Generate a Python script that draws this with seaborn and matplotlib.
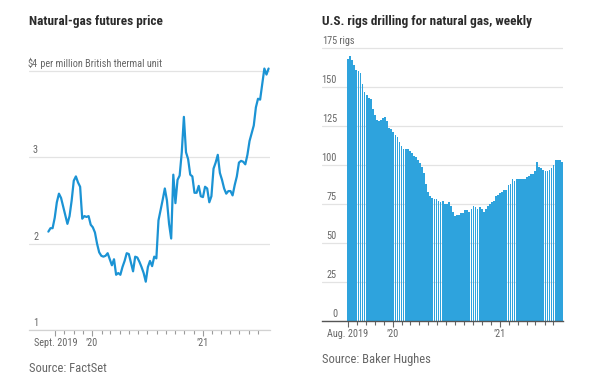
import matplotlib
matplotlib.use('Agg')
import matplotlib.pyplot as plt
import matplotlib.dates as mdates
import matplotlib.transforms as mtransforms
from matplotlib import font_manager
import numpy as np
import pandas as pd
import seaborn as sns

sns.set_theme(style='white')
installed = {f.name for f in font_manager.fontManager.ttflist}
narrow = [f for f in ['Roboto Condensed', 'DejaVu Sans Condensed', 'Roboto'] if f in installed]
plt.rcParams['font.family'] = narrow[:1] + ['DejaVu Sans']

# Natural-gas futures price, weekly, $ per million Btu
price_start = '2019-08-09'
price_values = [2.14, 2.18, 2.18, 2.30, 2.48, 2.58, 2.53, 2.43, 2.33, 2.23,
                2.32, 2.50, 2.73, 2.78, 2.71, 2.66, 2.29, 2.32, 2.31, 2.32,
                2.22, 2.19, 2.13, 2.00, 1.90, 1.86, 1.85, 1.86, 1.89, 1.82,
                1.75, 1.82, 1.64, 1.66, 1.64, 1.73, 1.80, 1.89, 1.88, 1.78,
                1.68, 1.85, 1.84, 1.79, 1.73, 1.66, 1.56, 1.73, 1.80, 1.74,
                1.85, 1.83, 2.27, 2.39, 2.51, 2.64, 2.50, 2.23, 2.06, 2.80,
                2.47, 2.74, 2.79, 3.06, 3.47, 3.06, 2.98, 2.80, 2.78, 2.59,
                2.59, 2.67, 2.55, 2.54, 2.66, 2.64, 2.48, 2.55, 2.87, 2.94,
                3.03, 2.82, 2.74, 2.64, 2.58, 2.61, 2.61, 2.56, 2.68, 2.78,
                2.94, 2.96, 2.95, 2.92, 3.03, 3.19, 3.28, 3.37, 3.58, 3.68,
                3.67, 3.85, 4.03, 3.96, 4.03]

# U.S. rigs drilling for natural gas, weekly
rig_start = '2019-08-02'
rig_counts = [168, 170, 167, 164, 161, 160, 159, 152, 147, 145,
              143, 142, 136, 132, 129, 128, 129, 130, 131, 128,
              124, 123, 121, 119, 118, 115, 112, 110, 110, 110,
              109, 108, 106, 105, 103, 101, 99, 95, 88, 83,
              80, 79, 78, 78, 77, 76, 77, 75, 75, 76,
              74, 70, 67, 68, 68, 69, 69, 71, 71, 70,
              72, 74, 73, 72, 73, 72, 70, 72, 74, 75,
              76, 77, 80, 81, 82, 83, 84, 84, 87, 88,
              91, 90, 91, 91, 91, 91, 91, 92, 93, 94,
              94, 96, 102, 99, 98, 97, 96, 96, 97, 98,
              100, 103, 103, 103, 102]

price_ticks = [1, 2, 3, 4]
price_tick_labels = ['1', '2', '3', '$4']
price_unit = ' per million British thermal unit'
rig_ticks = [0, 25, 50, 75, 100, 125, 150, 175]
rig_tick_labels = ['0', '25', '50', '75', '100', '125', '150', '175']
rig_unit = ' rigs'

price_month_ticks = pd.date_range('2019-09-01', '2021-07-01', freq='MS')
price_label_dates = ['2019-09-01', '2020-01-01', '2021-01-01']
price_label_text = ['Sept. 2019', '\u201920', '\u201921']
rig_month_ticks = pd.date_range('2019-08-01', '2021-07-01', freq='MS')
rig_label_dates = ['2019-08-01', '2020-01-01', '2021-01-01']
rig_label_text = ['Aug. 2019', '\u201920', '\u201921']

price_dates = pd.date_range(price_start, periods=len(price_values), freq='7D')
rig_dates = pd.date_range(rig_start, periods=len(rig_counts), freq='7D')

LINE_BLUE = '#1b93d4'
BAR_BLUE = '#2ea3dd'
GRID = '#e3e3e3'
LABEL = '#666666'
TICK_FS = 7.4

W, H = 592, 388
fig = plt.figure(figsize=(W / 100, H / 100), dpi=100)

def px_rect(x0, x1, y_top, y_bot):
    return [x0 / W, 1 - y_bot / H, (x1 - x0) / W, (y_bot - y_top) / H]

ax1 = fig.add_axes(px_rect(29, 269.5, 62.5, 330))
ax2 = fig.add_axes(px_rect(322, 563, 43.3, 321))

# left: price line
sns.lineplot(x=price_dates, y=price_values, ax=ax1, color=LINE_BLUE, linewidth=1.6)
ax1.set_xlim(pd.Timestamp('2019-06-06'), pd.Timestamp('2021-08-09'))
ax1.set_ylim(1, 4.1)

# right: rig bars
rig_num = mdates.date2num(rig_dates)
sns.barplot(x=rig_num, y=rig_counts, ax=ax2, native_scale=True, orient='x',
            color=BAR_BLUE, width=0.86, linewidth=0,
            errorbar=None, saturation=1)
ax2.set_xlim(mdates.date2num(pd.Timestamp('2019-05-05')),
             mdates.date2num(pd.Timestamp('2021-08-03')))
ax2.set_ylim(0, 178)

for ax in (ax1, ax2):
    for s in ax.spines.values():
        s.set_visible(False)
    ax.set_xlabel('')
    ax.set_ylabel('')
    ax.tick_params(axis='y', length=0)

# y gridlines + labels sitting above the lines
ax1.set_yticks(price_ticks)
ax1.yaxis.grid(True, color=GRID, linewidth=0.9)
ax1.set_yticklabels([])
ax2.set_yticks(rig_ticks)
ax2.yaxis.grid(True, color=GRID, linewidth=0.9)
ax2.set_yticklabels([])
ax1.set_axisbelow(True)
ax2.set_axisbelow(True)

def y_labels(ax, ticks, labels, unit, dx_px):
    tr = ax.get_yaxis_transform() + mtransforms.ScaledTranslation(dx_px / 100, 2 / 100, fig.dpi_scale_trans)
    for v, lab in zip(ticks, labels):
        ax.text(0, v, lab, transform=tr, ha='right', va='bottom', fontsize=TICK_FS, color=LABEL)
    ax.text(0, ticks[-1], unit, transform=tr, ha='left', va='bottom', fontsize=TICK_FS, color=LABEL)

y_labels(ax1, price_ticks, price_tick_labels, price_unit, 9)
y_labels(ax2, rig_ticks, rig_tick_labels, rig_unit, 15)

# x axes
ax1.spines['bottom'].set_visible(True)
ax1.spines['bottom'].set_color('#d2d2d2')
ax1.spines['bottom'].set_linewidth(0.9)
ax1.set_xticks(price_month_ticks, minor=True)
ax1.set_xticks(pd.to_datetime(price_label_dates))
ax1.set_xticklabels(price_label_text)
ax1.tick_params(axis='x', which='both', bottom=True, length=3, width=0.8, color='#9a9a9a',
                pad=2, labelsize=TICK_FS, labelcolor=LABEL)
ax1.tick_params(axis='x', which='major', length=4)

ax2.spines['bottom'].set_visible(True)
ax2.spines['bottom'].set_color('#555555')
ax2.spines['bottom'].set_linewidth(1)
ax2.set_xticks(mdates.date2num(rig_month_ticks), minor=True)
ax2.set_xticks(mdates.date2num(pd.to_datetime(rig_label_dates)))
ax2.set_xticklabels(rig_label_text)
ax2.tick_params(axis='x', which='both', bottom=True, length=3, width=0.8, color='#666666',
                pad=2, labelsize=TICK_FS, labelcolor=LABEL)
ax2.tick_params(axis='x', which='major', length=4)

# titles and sources
fig.text(29 / W, 1 - 21 / H, 'Natural-gas futures price', fontsize=9.5, fontweight='bold',
         color='#2b2b2b', va='center', ha='left')
fig.text(322 / W, 1 - 21 / H, 'U.S. rigs drilling for natural gas, weekly', fontsize=9.5,
         fontweight='bold', color='#2b2b2b', va='center', ha='left')
fig.text(29 / W, 1 - 368 / H, 'Source: FactSet', fontsize=9, color=LABEL, va='center', ha='left')
fig.text(322 / W, 1 - 360 / H, 'Source: Baker Hughes', fontsize=9, color=LABEL, va='center', ha='left')

fig.savefig('out.png', dpi=100, facecolor='white')
